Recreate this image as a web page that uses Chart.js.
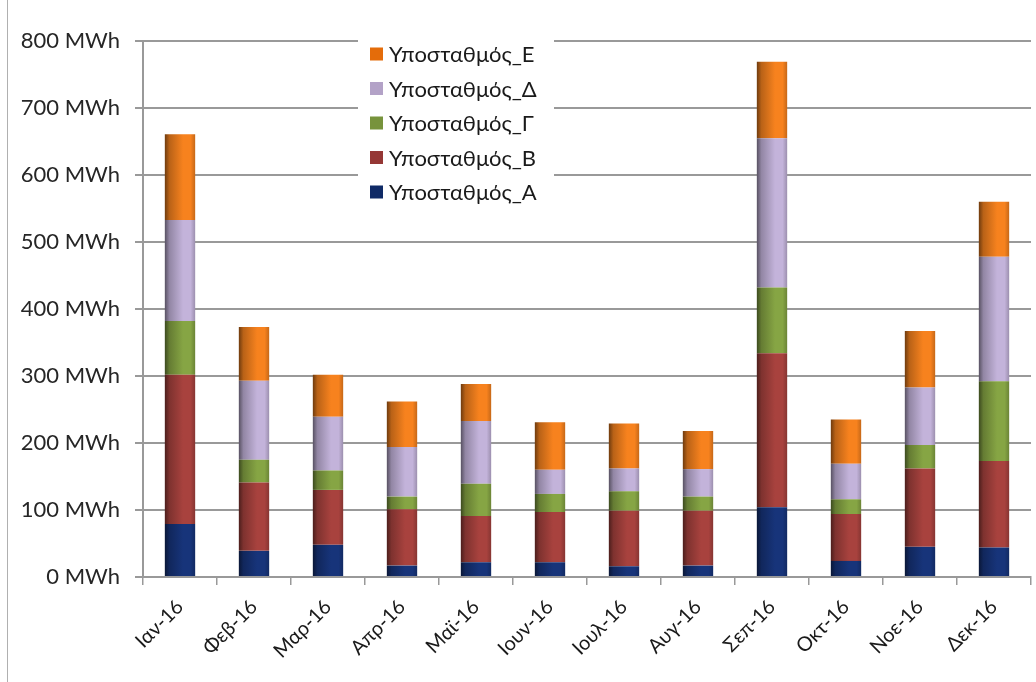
<!DOCTYPE html>
<html>
<head>
<meta charset="utf-8">
<script src="https://cdn.jsdelivr.net/npm/chart.js@4/dist/chart.umd.min.js"></script>
<style>
  html, body { margin: 0; padding: 0; background: #fff; }
  #wrap { position: relative; width: 1036px; height: 682px; }
  #wrap::before { content: ''; position: absolute; left: 7px; top: 0; bottom: 0; width: 1px; background: #b0b0b0; }
  canvas { display: block; }
</style>
</head>
<body>
<div id="wrap"><canvas id="chart" width="1036" height="682"></canvas></div>
<script>
// δεδομένα (MWh ανά μήνα)
const months = ['Ιαν-16', 'Φεβ-16', 'Μαρ-16', 'Απρ-16', 'Μαϊ-16', 'Ιουν-16', 'Ιουλ-16', 'Αυγ-16', 'Σεπ-16', 'Οκτ-16', 'Νοε-16', 'Δεκ-16'];
const stationA = [79, 39, 48, 17, 22, 22, 16, 17, 104, 24, 45, 44];
const stationB = [223, 102, 82, 84, 69, 75, 83, 82, 230, 70, 117, 129];
const stationG = [80, 34, 29, 19, 48, 27, 29, 21, 98, 22, 35, 119];
const stationD = [151, 118, 80, 74, 94, 36, 34, 41, 223, 53, 86, 186];
const stationE = [128, 80, 63, 68, 55, 71, 67, 57, 114, 66, 84, 82];
const seriesNames = ['Υποσταθμός_Α', 'Υποσταθμός_Β', 'Υποσταθμός_Γ', 'Υποσταθμός_Δ', 'Υποσταθμός_Ε'];
const yTicks = [0, 100, 200, 300, 400, 500, 600, 700, 800];

const FONT = 'Lato, "Noto Sans", "DejaVu Sans", sans-serif';
const BAR_FRACTION = 0.41;
const gridColor = '#999999';

function shade(hex, k) {
    const n = parseInt(hex.slice(1), 16);
    const r = Math.min(255, Math.round(((n >> 16) & 255) * k));
    const g = Math.min(255, Math.round(((n >> 8) & 255) * k));
    const b = Math.min(255, Math.round((n & 255) * k));
    return `rgb(${r}, ${g}, ${b})`;
}

// σκίαση κατά πλάτος της μπάρας (όπως στο Excel)
function barFill(base) {
    return function (ctx) {
        if (ctx.type !== 'data') return base;
        const chart = ctx.chart;
        const xs = chart.scales.x;
        if (!xs || !chart.chartArea) return base;
        const cx = xs.getPixelForValue(ctx.dataIndex);
        const w = (xs.width / months.length) * BAR_FRACTION;
        const g = chart.ctx.createLinearGradient(cx - w / 2, 0, cx + w / 2, 0);
        g.addColorStop(0, shade(base, 0.45));
        g.addColorStop(0.15, shade(base, 0.75));
        g.addColorStop(0.6, shade(base, 1.0));
        g.addColorStop(0.85, shade(base, 1.0));
        g.addColorStop(1, shade(base, 0.8));
        return g;
    };
}

const baseColors = ['#17347A', '#A8423E', '#86A544', '#C3B3DA', '#F7821E'];
const legendColors = ['#0F2A66', '#953735', '#77933C', '#B3A2C7', '#E46C0A'];
const seriesData = [stationA, stationB, stationG, stationD, stationE];

const datasets = seriesData.map((data, i) => ({
    label: seriesNames[i],
    data: data,
    backgroundColor: barFill(baseColors[i]),
    borderWidth: 0,
    categoryPercentage: 1,
    barPercentage: BAR_FRACTION,
    legendColor: legendColors[i]
}));

// υπόμνημα μέσα στην περιοχή του γραφήματος
const insideLegend = {
    id: 'insideLegend',
    afterDraw(chart, args, opts) {
        const ctx = chart.ctx;
        ctx.save();
        ctx.fillStyle = '#ffffff';
        ctx.fillRect(opts.x, opts.y, opts.w, opts.h);
        ctx.font = `22px ${FONT}`;
        ctx.textBaseline = 'middle';
        const list = chart.data.datasets.slice().reverse();
        list.forEach((ds, i) => {
            const cy = opts.y + opts.first + i * opts.step;
            ctx.fillStyle = ds.legendColor;
            ctx.fillRect(opts.x + 12, cy - 6.5, 13, 13);
            ctx.fillStyle = '#1a1a1a';
            ctx.fillText(ds.label, opts.x + 31, cy + 1);
        });
        ctx.restore();
    }
};

const chart = new Chart(document.getElementById('chart'), {
    type: 'bar',
    data: { labels: months, datasets: datasets },
    plugins: [insideLegend],
    options: {
        responsive: false,
        animation: false,
        layout: { padding: { left: 0, right: 5, top: 41, bottom: 0 } },
        plugins: {
            legend: { display: false },
            tooltip: { enabled: false },
            insideLegend: { x: 358, y: 36, w: 196, h: 172, first: 18, step: 34.5 }
        },
        scales: {
            x: {
                stacked: true,
                afterFit: axis => { axis.height = 105; },
                grid: {
                    offset: true,
                    drawOnChartArea: false,
                    drawTicks: true,
                    tickLength: 8,
                    color: gridColor,
                    lineWidth: 1.5
                },
                border: { color: gridColor, width: 2 },
                ticks: {
                    minRotation: 45,
                    maxRotation: 45,
                    padding: 10,
                    color: '#1a1a1a',
                    font: { family: FONT, size: 20 }
                }
            },
            y: {
                stacked: true,
                min: 0,
                max: 800,
                afterFit: axis => { axis.width = 143; },
                afterBuildTicks: axis => { axis.ticks = yTicks.map(v => ({ value: v })); },
                grid: {
                    color: gridColor,
                    lineWidth: 2,
                    drawTicks: true,
                    tickLength: 8
                },
                border: { color: gridColor, width: 2 },
                ticks: {
                    padding: 15,
                    color: '#262626',
                    font: { family: FONT, size: 22 },
                    callback: v => `${v} MWh`
                }
            }
        }
    }
});
</script>
</body>
</html>
